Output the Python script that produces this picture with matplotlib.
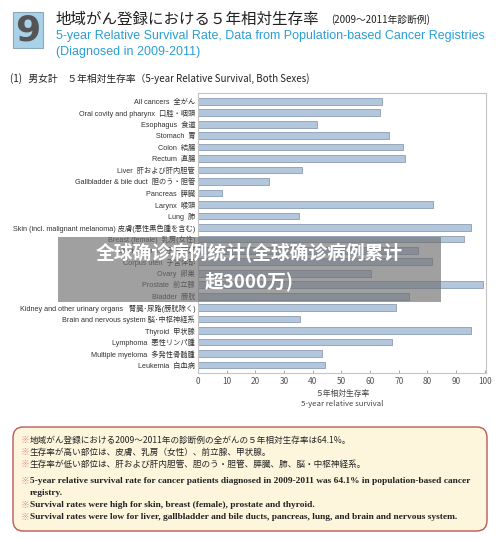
import matplotlib
matplotlib.use("Agg")
import matplotlib.pyplot as plt
from matplotlib.patches import FancyBboxPatch, Rectangle

plt.rcParams['font.family'] = ['Noto Sans CJK JP', 'DejaVu Sans']

labels = [
    "All cancers  全がん",
    "Oral covity and pharynx  口腔・咽頭",
    "Esophagus  食道",
    "Stomach  胃",
    "Colon  結腸",
    "Rectum  直腸",
    "Liver  肝および肝内胆管",
    "Gallbladder & bile duct  胆のう・胆管",
    "Pancreas  膵臓",
    "Larynx  喉頭",
    "Lung  肺",
    "Skin (incl. malignant melanoma) 皮膚(悪性黒色腫を含む)",
    "Breast (female)  乳房(女性)",
    "Uterine cervix  子宮頸部",
    "Corpus uteri  子宮体部",
    "Ovary  卵巣",
    "Prostate  前立腺",
    "Bladder  膀胱",
    "Kidney and other urinary organs   腎臓･尿路(膀胱除く)",
    "Brain and nervous system 脳･中枢神経系",
    "Thyroid  甲状腺",
    "Lymphoma  悪性リンパ腫",
    "Multiple myeloma  多発性骨髄腫",
    "Leukemia  白血病",
]
values = [64.1, 63.5, 41.6, 66.7, 71.5, 72.0, 36.1, 24.6, 8.5, 82.0, 35.1,
          95.0, 92.6, 76.8, 81.7, 60.2, 99.4, 73.6, 68.9, 35.7, 95.0, 67.8,
          43.1, 44.1]
xticks = [0, 10, 20, 30, 40, 50, 60, 70, 80, 90, 100]

W, H = 500, 540
fig = plt.figure(figsize=(5, 5.4), dpi=100)
fig.patch.set_facecolor('white')

def px(x, y):
    return x / W, 1 - y / H

# header box with "9"
fig.patches.append(Rectangle(px(13, 48), 30 / W, 36 / H, transform=fig.transFigure,
                             facecolor='#a9d2e8', edgecolor='#8aa8b8', lw=0.8))
fig.text(*px(28, 31), "9", fontsize=26, fontweight='bold', color='#555555',
         ha='center', va='center', family=['DejaVu Sans'])
fig.text(*px(56, 19), "地域がん登録における５年相対生存率", fontsize=11.2,
         color='#222222', ha='left', va='center')
fig.text(*px(331, 20), "(2009～2011年診断例)", fontsize=7.0,
         color='#222222', ha='left', va='center')
fig.text(*px(56, 36), "5-year Relative Survival Rate, Data from Population-based Cancer Registries",
         fontsize=9.0, color='#2b9fd2', ha='left', va='center', family=['Liberation Sans'])
fig.text(*px(56, 52), "(Diagnosed in 2009-2011)", fontsize=9.0, color='#2b9fd2',
         ha='left', va='center', family=['Liberation Sans'])
fig.text(*px(10, 79), "(1)   男女計　５年相対生存率（5-year Relative Survival, Both Sexes)",
         fontsize=7, color='#222222', ha='left', va='center')

# chart
ax = fig.add_axes([198 / W, 1 - 373 / H, 288 / W, 280 / H])
ypos = list(range(len(labels)))
ax.barh(ypos, values, height=0.58, color='#b3c7dc', edgecolor='#8c9cb0', linewidth=0.6)
ax.set_ylim(len(labels) - 0.3, -0.72)
ax.set_xlim(0, 100.4)
ax.set_yticks(ypos)
ax.set_yticklabels(labels, fontsize=5.2, color='#333333',
                   family=['Liberation Sans', 'Noto Sans CJK JP'])
ax.tick_params(axis='y', length=0, pad=2)
ax.set_xticks(xticks)
ax.set_xticklabels([str(t) for t in xticks], fontsize=6, color='#555555')
ax.tick_params(axis='x', direction='in', length=2.5, width=0.6, color='#999999', pad=3)
for s in ax.spines.values():
    s.set_color('#c4c4c4')
    s.set_linewidth(0.8)
ax.set_xlabel("５年相対生存率\n5-year relative survival", fontsize=5.6, color='#444444',
              linespacing=1.3, labelpad=3)

# watermark overlay
fig.patches.append(Rectangle(px(58, 302), 383 / W, 65 / H, transform=fig.transFigure,
                             facecolor='#6e6e6e', edgecolor='none', alpha=0.65, zorder=10))
fig.text(*px(249, 253), "全球确诊病例统计(全球确诊病例累计", fontsize=13.5, fontweight='bold',
         color='white', ha='center', va='center', zorder=11,
         family=['Noto Sans CJK SC', 'DejaVu Sans'])
fig.text(*px(249, 281), "超3000万)", fontsize=13.5, fontweight='bold',
         color='white', ha='center', va='center', zorder=11,
         family=['Noto Sans CJK SC', 'DejaVu Sans'])

# bottom note box
box = FancyBboxPatch(px(13, 531), 474 / W, 104 / H, transform=fig.transFigure,
                     boxstyle="round,pad=0,rounding_size=0.02",
                     facecolor='#fdf6dd', edgecolor='#b85a5a', linewidth=1.0)
fig.patches.append(box)

jp_lines = [
    (440, "地域がん登録における2009～2011年の診断例の全がんの５年相対生存率は64.1%。"),
    (452, "生存率が高い部位は、皮膚、乳房（女性）、前立腺、甲状腺。"),
    (464, "生存率が低い部位は、肝および肝内胆管、胆のう・胆管、膵臓、肺、脳・中枢神経系。"),
]
for y, t in jp_lines:
    fig.text(*px(21, y), "※", fontsize=6.5, color='#e08a8a', ha='left', va='center')
    fig.text(*px(30, y), t, fontsize=6.2, color='#222222', ha='left', va='center')

en_lines = [
    (481, "5-year relative survival rate for cancer patients diagnosed in 2009-2011 was 64.1% in population-based cancer", True),
    (493, "registry.", False),
    (505, "Survival rates were high for skin, breast (female), prostate and thyroid.", True),
    (517, "Survival rates were low for liver, gallbladder and bile ducts, pancreas, lung, and brain and nervous system.", True),
]
for y, t, bullet in en_lines:
    if bullet:
        fig.text(*px(21, y), "※", fontsize=6.5, color='#e08a8a', ha='left', va='center')
    fig.text(*px(30, y), t, fontsize=6.75, fontweight='bold', color='#222222',
             ha='left', va='center', family=['Liberation Serif'])

fig.savefig("out.png", dpi=100, facecolor='white')
